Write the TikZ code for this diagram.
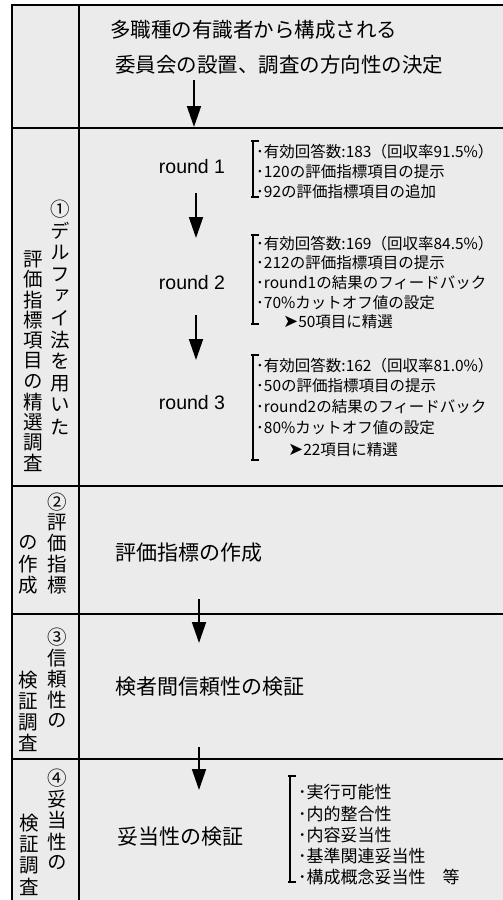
\documentclass[tikz,border=0pt]{standalone}
\usepackage{fontspec}
\setmainfont{Noto Sans CJK JP}
\newfontfamily\jpv[RawFeature=+vert]{Noto Sans CJK JP}
\newfontfamily\latf{Liberation Sans}
\newfontfamily\dvf{DejaVu Sans}
\usetikzlibrary{arrows.meta}
\definecolor{panel}{HTML}{EBEBEB}
\newcommand{\pointer}{{\dvf\fontsize{18}{18}\selectfont ➤}}
\begin{document}
\begin{tikzpicture}[x=1pt,y=-1pt,
  frame/.style={line width=2pt},
  arr/.style={line width=1.8pt,-{Triangle[width=14pt,length=21pt]}},
  maintxt/.style={anchor=west,inner sep=0pt,font=\fontsize{20.5}{24}\selectfont},
  rnd/.style={inner sep=0pt,font=\latf\fontsize{19.5}{22}\selectfont},
  item/.style={anchor=west,inner sep=0pt,font=\fontsize{15.5}{18}\selectfont},
  itemb/.style={anchor=west,inner sep=0pt,font=\fontsize{17}{20}\selectfont},
  brk/.style={line width=1.2pt},
  vch/.style={inner sep=0pt,font=\jpv\fontsize{19.5}{22}\selectfont}]
\useasboundingbox (0,0) rectangle (503,900);
\clip (0,0) rectangle (503,900);
\fill[white] (0,0) rectangle (503,900);
\fill[panel] (12,5) rectangle (515,910);
% frame and grid
\draw[frame] (12,5) rectangle (515,910);
\draw[frame] (79,5) -- (79,910);
\draw[frame] (12,128) -- (515,128);
\draw[frame] (12,486) -- (515,486);
\draw[frame] (12,614) -- (515,614);
\draw[frame] (12,759) -- (515,759);

% row 1
\node[maintxt] (t1a) at (110,30) {多職種の有識者から構成される};
\node[maintxt] (t1b) at (115,65) {委員会の設置、調査の方向性の決定};
\coordinate (a1s) at (194,80); \coordinate (a1e) at (194,127);
\draw[arr] (a1s) -- (a1e);

% row 2
\node[rnd] (r1) at (192,167) {round 1};
\node[rnd] (r2) at (192,283) {round 2};
\node[rnd] (r3) at (192,403) {round 3};
\coordinate (a2s) at (196,193); \coordinate (a2e) at (196,238);
\draw[arr] (a2s) -- (a2e);
\coordinate (a3s) at (196,315); \coordinate (a3e) at (196,360);
\draw[arr] (a3s) -- (a3e);

\draw[brk] (251,141) -- (259,141) (253,141) -- (253,197) (251,197) -- (259,197);
\node[item] (i11) at (256,152) {･有効回答数:183（回収率91.5\%）};
\node[item] (i12) at (256,172) {･120の評価指標項目の提示};
\node[item] (i13) at (256,192) {･92の評価指標項目の追加};

\draw[brk] (251,235) -- (259,235) (253,235) -- (253,324) (251,324) -- (259,324);
\node[item] (i21) at (256,244) {･有効回答数:169（回収率84.5\%）};
\node[item] (i22) at (256,263) {･212の評価指標項目の提示};
\node[item] (i23) at (256,283) {･round1の結果のフィードバック};
\node[item] (i24) at (256,303) {･70\%カットオフ値の設定};
\node[item] (i25) at (283,322) {\pointer 50項目に精選};

\draw[brk] (251,355) -- (259,355) (253,355) -- (253,460) (251,460) -- (259,460);
\node[item] (i31) at (256,366) {･有効回答数:162（回収率81.0\%）};
\node[item] (i32) at (256,386) {･50の評価指標項目の提示};
\node[item] (i33) at (256,407) {･round2の結果のフィードバック};
\node[item] (i34) at (256,428) {･80\%カットオフ値の設定};
\node[item] (i35) at (288,450) {\pointer 22項目に精選};

\foreach \c [count=\i from 0] in {①,デ,ル,フ,ァ,イ,法,を,用,い,た}
  \node[vch] (v2r\i) at (60,209+21.8*\i) {\c};
\foreach \c [count=\i from 0] in {評,価,指,標,項,目,の,精,選,調,査}
  \node[vch] (v2l\i) at (33,259+20.4*\i) {\c};

% row 3
\node[maintxt,font=\fontsize{21}{24}\selectfont] (t3) at (115,553) {評価指標の作成};
\coordinate (a4s) at (199,599); \coordinate (a4e) at (199,643);
\draw[arr] (a4s) -- (a4e);
\foreach \c [count=\i from 0] in {②,評,価,指,標}
  \node[vch] (v3r\i) at (57,502+20.75*\i) {\c};
\foreach \c [count=\i from 0] in {の,作,成}
  \node[vch] (v3l\i) at (28,543+21*\i) {\c};

% row 4
\node[maintxt,font=\fontsize{21}{24}\selectfont] (t4) at (115,687) {検者間信頼性の検証};
\coordinate (a5s) at (199,747); \coordinate (a5e) at (199,790);
\draw[arr] (a5s) -- (a5e);
\foreach \c [count=\i from 0] in {③,信,頼,性,の}
  \node[vch] (v4r\i) at (57,637+21*\i) {\c};
\foreach \c [count=\i from 0] in {検,証,調,査}
  \node[vch] (v4l\i) at (28,680+21*\i) {\c};

% row 5
\node[maintxt,font=\fontsize{21}{24}\selectfont] (t5) at (117,837) {妥当性の検証};
\draw[brk] (288,776) -- (296,776) (290,776) -- (290,882) (288,882) -- (296,882);
\node[itemb] (i51) at (298,792) {･実行可能性};
\node[itemb] (i52) at (298,814) {･内的整合性};
\node[itemb] (i53) at (298,835) {･内容妥当性};
\node[itemb] (i54) at (298,856) {･基準関連妥当性};
\node[itemb] (i55) at (298,877) {･構成概念妥当性　等};
\foreach \c [count=\i from 0] in {④,妥,当,性,の}
  \node[vch] (v5r\i) at (57,778+21.25*\i) {\c};
\foreach \c [count=\i from 0] in {検,証,調,査}
  \node[vch] (v5l\i) at (29,823+21.3*\i) {\c};
\end{tikzpicture}
\end{document}
